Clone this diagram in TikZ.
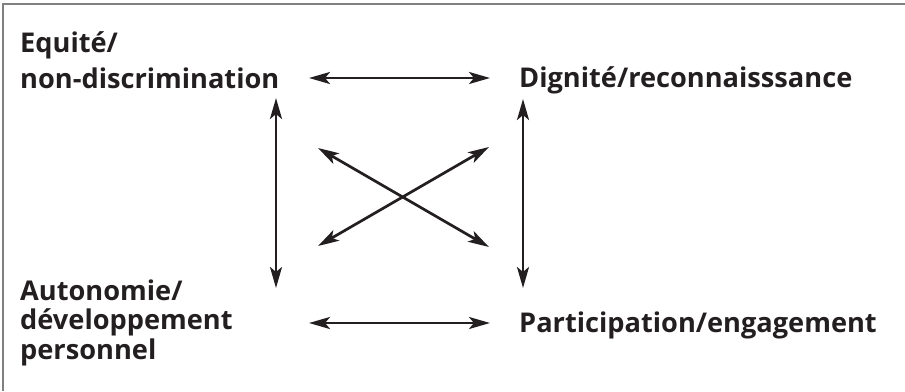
\documentclass[tikz,border=0pt]{standalone}
\usepackage{fontspec}
\setmainfont{Open Sans}
\usetikzlibrary{arrows.meta}
\definecolor{ink}{RGB}{35,31,32}
\begin{document}
\begin{tikzpicture}[x=1pt,y=-1pt,
  lbl/.style={anchor=base west,inner sep=0pt,align=left,text=ink},
  big/.style={font=\fontsize{27.2}{#1}\selectfont\bfseries},
  link/.style={{Stealth[length=21pt,width=12pt,inset=5pt]}-{Stealth[length=21pt,width=12pt,inset=5pt]},line width=2.7pt,ink}]
\useasboundingbox (0,0) rectangle (905,391);
\draw[gray,line width=1.6pt] (3,391) -- (3,4) -- (905,4);
% base anchor = baseline of the last line
\node (equite) at (20,88) [lbl,big=36] {Equité/\\non-discrimination};
\node (dignite) at (519,87) [lbl,big=36] {Dignité/reconnaisssance};
\node (autonomie) at (20,359) [lbl,big=29.5] {Autonomie/\\développement\\personnel};
\node (particip) at (519,332) [lbl,big=36] {Participation/engagement};
% arrow ends
\coordinate (tl) at (309,78);
\coordinate (tr) at (490,78);
\coordinate (bl) at (309,323);
\coordinate (br) at (490,323);
\coordinate (lu) at (276,98);
\coordinate (ld) at (276,288);
\coordinate (ru) at (523,99);
\coordinate (rd) at (523,288);
\coordinate (xa) at (318,148);
\coordinate (xb) at (489,247);
\coordinate (xc) at (318,246);
\coordinate (xd) at (489,147);
\draw[link] (tl) -- (tr);
\draw[link] (bl) -- (br);
\draw[link] (lu) -- (ld);
\draw[link] (ru) -- (rd);
\draw[link] (xa) -- (xb);
\draw[link] (xc) -- (xd);
\end{tikzpicture}
\end{document}
